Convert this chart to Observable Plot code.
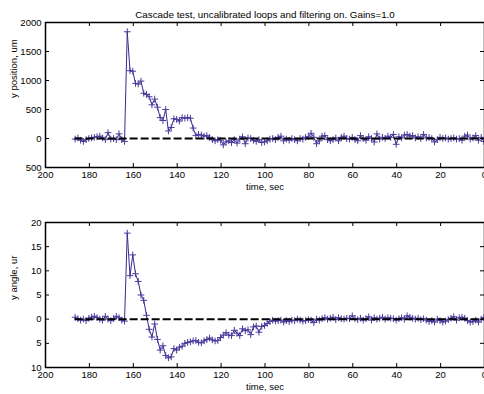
<!DOCTYPE html>
<html><head><meta charset="utf-8">
<script src="https://cdn.jsdelivr.net/npm/d3@7"></script>
<script src="https://cdn.jsdelivr.net/npm/@observablehq/plot@0.6"></script>
<style>
html,body{margin:0;padding:0;background:#fff;}
#chart svg{display:block;}
</style></head><body><div id="chart"></div>
<script>
const title = "Cascade test, uncalibrated loops and filtering on. Gains=1.0";
const xLabel = "time, sec";
const posLabel = "y position, um";
const angLabel = "y angle, ur";

const time = [186.5,185.25,184,182.75,181.5,180.25,179,177.75,176.5,175.25,
174,172.75,171.5,170.25,169,167.75,166.5,165.25,164,162.75,
161.5,160.25,159,157.75,156.5,155.25,154,152.75,151.5,150.25,
149,147.75,146.5,145.25,144,142.75,141.5,140.25,139,137.75,
136.5,135.25,134,132.75,131.5,130.25,129,127.75,126.5,125.25,
124,122.75,121.5,120.25,119,117.75,116.5,115.25,114,112.75,
111.5,110.25,109,107.75,106.5,105.25,104,102.75,101.5,100.25,
99,97.75,96.5,95.25,94,92.75,91.5,90.25,89,87.75,
86.5,85.25,84,82.75,81.5,80.25,79,77.75,76.5,75.25,
74,72.75,71.5,70.25,69,67.75,66.5,65.25,64,62.75,
61.5,60.25,59,57.75,56.5,55.25,54,52.75,51.5,50.25,
49,47.75,46.5,45.25,44,42.75,41.5,40.25,39,37.75,
36.5,35.25,34,32.75,31.5,30.25,29,27.75,26.5,25.25,
24,22.75,21.5,20.25,19,17.75,16.5,15.25,14,12.75,
11.5,10.25,9,7.75,6.5,5.25,4,2.75,1.5,0.25];

const yPosition = [-10,10,-30,-50,-20,0,10,20,30,40,
10,-20,100,-10,0,-20,80,-20,-50,1840,
1170,1160,950,940,990,780,760,720,580,680,
540,360,310,500,130,190,340,330,300,360,
350,360,350,180,50,70,60,40,50,20,
-20,-40,-20,-30,-110,-60,-40,-70,-20,-80,
-10,30,-90,10,0,-30,-50,-20,-70,-60,
-40,-10,0,-20,20,40,-40,-10,-30,0,
-20,-40,0,-10,20,30,90,20,-90,-40,
40,50,-20,-40,-20,10,-40,20,40,0,
-10,20,-20,-40,50,0,-30,30,0,-60,
80,-10,20,0,40,20,70,-100,30,10,
60,70,40,50,10,30,0,70,10,20,
0,-60,-20,20,0,10,-10,0,10,-10,
0,-30,40,60,-10,10,50,-30,20,-50];

const yAngle = [0.4,0.1,-0.2,0.0,-0.3,0.2,0.4,0.6,0.3,0.0,
-0.2,0.6,0.0,-0.3,0.1,0.6,0.3,-0.2,-0.4,17.8,
9.0,13.3,9.4,7.8,5.0,3.9,0.8,-2.1,-3.7,-1.0,
-4.2,-6.4,-5.5,-7.5,-8.0,-7.8,-6.1,-6.4,-5.8,-5.6,
-5.0,-4.8,-4.7,-4.5,-4.4,-4.8,-4.9,-4.5,-4.2,-3.9,
-4.3,-4.5,-4.4,-3.8,-3.3,-2.8,-3.3,-3.4,-2.3,-2.9,
-3.4,-2.0,-2.4,-2.2,-3.2,-1.6,-1.4,-2.7,-1.5,-1.3,
-0.9,-0.5,-0.2,-0.4,-0.3,-0.2,-0.6,-0.3,-0.5,-0.2,
-0.3,0.0,-0.2,-0.4,-0.3,-0.1,-0.2,-0.7,0.0,-0.2,
0.1,0.3,0.0,0.2,0.4,-0.1,0.3,0.1,0.0,0.2,
0.1,0.7,0.1,-0.1,0.2,-0.2,0.1,0.5,-0.2,0.3,
0.0,0.2,0.4,0.0,0.3,0.2,0.1,-0.2,0.1,0.3,
0.0,0.7,0.4,0.2,0.0,0.2,-0.1,0.1,-0.2,-0.5,
-0.3,-0.6,0.0,-0.3,-0.6,-0.4,-0.1,0.2,0.5,-0.2,
0.3,0.4,0.2,-0.3,-0.6,-0.5,-0.2,-0.6,0.0,0.3];

const xTicks = [0,20,40,60,80,100,120,140,160,180,200];
const xTickLabels = ["0","20","40","60","80","100","120","140","160","180","200"];
const posTicks = [-500,0,500,1000,1500,2000];
const posTickLabels = ["500","0","500","1000","1500","2000"];
const angTicks = [-10,-5,0,5,10,15,20];
const angTickLabels = ["10","5","0","5","10","15","20"];

const lineColor = "#3a2a8c";
const markColor = "#4a3a9c";
const font = "'Liberation Sans', Arial, Helvetica, sans-serif";

function panel(values, yDomain, yTicks, yTickLabels, yLabel, height, marginBottom, withTitle, labelShift) {
  const W = 484, mL = 45, mR = 0, mT = 22;
  const pw = W - mL - mR, ph = height - mT - marginBottom;
  const rows = time.map((t, i) => ({t, v: values[i]}));
  const marks = [
    Plot.line(rows, {x: "t", y: "v", stroke: lineColor, strokeWidth: 1}),
    Plot.dot(rows, {x: "t", y: "v", symbol: "plus", r: 2.3, stroke: markColor, strokeWidth: 1}),
    Plot.ruleY([0], {x1: () => time[0], x2: () => time[time.length - 1], stroke: "#000", strokeWidth: 2, strokeDasharray: "8,3"}),
    Plot.ruleX(xTicks, {x: d => d, insetBottom: ph - 4, stroke: "#000"}),
    Plot.ruleX(xTicks, {x: d => d, insetTop: ph - 4, stroke: "#000"}),
    Plot.ruleY(yTicks, {y: d => d, insetRight: pw - 4, stroke: "#000"}),
    Plot.ruleY(yTicks, {y: d => d, insetLeft: pw - 4, stroke: "#000"}),
    Plot.frame({stroke: "#000", strokeWidth: 1.5}),
    Plot.axisX(xTicks, {anchor: "bottom", tickSize: 0, tickPadding: 4, tickFormat: d => xTickLabels[xTicks.indexOf(d)], label: null, fill: "#000"}),
    Plot.axisY(yTicks, {anchor: "left", tickSize: 0, tickPadding: 4, tickFormat: d => yTickLabels[yTicks.indexOf(d)], label: null, fill: "#000"}),
    Plot.text([xLabel], {text: d => d, frameAnchor: "bottom", dy: 22, fill: "#000"}),
    Plot.text([yLabel], {text: d => d, frameAnchor: "left", dx: -32, dy: labelShift, rotate: -90, fill: "#000"})
  ];
  if (withTitle) marks.push(Plot.text([title], {text: d => d, frameAnchor: "top", dy: -11, fill: "#000", fontSize: 9.8}));
  return Plot.plot({
    width: W, height,
    marginLeft: mL, marginRight: mR, marginTop: mT, marginBottom,
    x: {domain: [200, 0]},
    y: {domain: yDomain},
    style: {fontFamily: font, fontSize: "9.5px", background: "#fff", overflow: "visible"},
    marks
  });
}

const chart = document.getElementById("chart");
chart.appendChild(panel(yPosition, [-500, 2000], posTicks, posTickLabels, posLabel, 200, 33, true, 3));
chart.appendChild(panel(yAngle, [-10, 20], angTicks, angTickLabels, angLabel, 194, 27, false, 5));
</script></body></html>
